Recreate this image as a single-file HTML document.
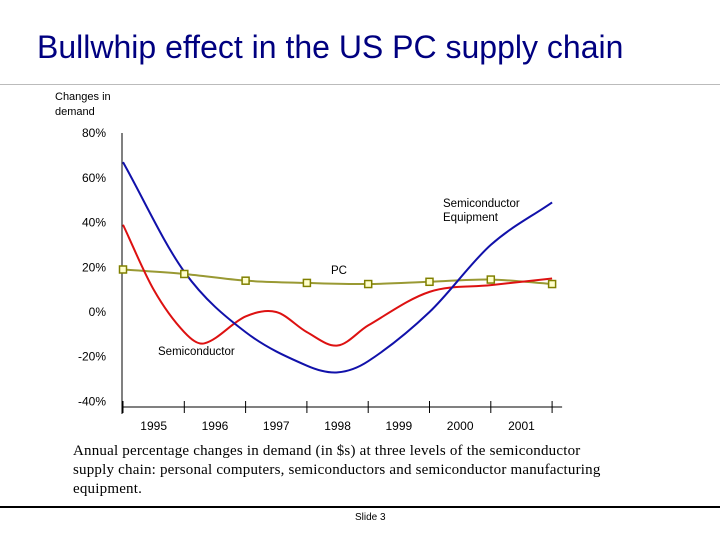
<!DOCTYPE html>
<html><head><meta charset="utf-8"><style>
body{margin:0;background:#fff;width:720px;height:540px;overflow:hidden;position:relative;font-family:"Liberation Sans",sans-serif}
.t{position:absolute;white-space:nowrap}
</style></head><body>
<div class="t" style="left:37px;top:29px;font-size:32px;color:#000080">Bullwhip effect in the US PC supply chain</div>
<div style="position:absolute;left:0;top:84px;width:720px;height:1px;background:#bbb"></div>
<svg id="chart" width="720" height="440" style="position:absolute;left:0;top:0" font-family="Liberation Sans, sans-serif"></svg>
<div class="t" style="left:73px;top:442px;font-family:'Liberation Serif',serif;font-size:15px;line-height:19px;letter-spacing:0.2px;white-space:normal;width:548px;color:#000">Annual percentage changes in demand (in $s) at three levels of the semiconductor supply chain: personal computers, semiconductors and semiconductor manufacturing equipment.</div>
<div style="position:absolute;left:0;top:506px;width:720px;height:2px;background:#000"></div>
<div class="t" style="left:355px;top:512px;font-size:10px">Slide 3</div>
<script>
const years=["1995","1996","1997","1998","1999","2000","2001"];
const yTicks=[80,60,40,20,0,-20,-40];
const pcX=[0,1,2,3,4,5,6,7];
const pcVals=[19,17,14,13,12.5,13.5,14.5,12.5];
const semiX=[0,0.5,1,1.33,2,2.5,3,3.5,4,5,6,7];
const semiVals=[39,10,-9,-14,-2,0,-9,-15,-6,9,12,15];
const equipX=[0,1,2,3,3.5,4,5,6,7];
const equipVals=[67,18,-9,-24,-27,-22,0,30,49];
const NS="http://www.w3.org/2000/svg",svg=document.getElementById('chart');
const x0=123,dx=61.3,yZero=312,pp=2.237;
const X=i=>x0+i*dx, Y=v=>yZero-v*pp;
function mk(t,a){const e=document.createElementNS(NS,t);for(const k in a)e.setAttribute(k,a[k]);svg.appendChild(e);return e;}
function smooth(xs,vs){const p=xs.map((x,i)=>[X(x),Y(vs[i])]);let d=`M${p[0][0]},${p[0][1]}`;
for(let i=0;i<p.length-1;i++){const a=p[i-1]||p[i],b=p[i],c=p[i+1],e=p[i+2]||c;
const s1=(c[0]-b[0])/(c[0]-a[0]||1),s2=(c[0]-b[0])/(e[0]-b[0]||1);
d+=` C${b[0]+(c[0]-a[0])*s1/3},${b[1]+(c[1]-a[1])*s1/3} ${c[0]-(e[0]-b[0])*s2/3},${c[1]-(e[1]-b[1])*s2/3} ${c[0]},${c[1]}`;}return d;}
let e;
e=mk('text',{x:55,y:100,'font-size':11});e.textContent='Changes in';

e=mk('text',{x:55,y:115,'font-size':11});e.textContent='demand';

yTicks.forEach(v=>{const t=mk('text',{x:106,y:Y(v)+4,'font-size':12,'text-anchor':'end'});t.textContent=v+'%';
});
e=mk('line',{x1:122,y1:133,x2:122,y2:414,stroke:'#000'});

e=mk('line',{x1:122,y1:407,x2:X(7)+10,y2:407,stroke:'#000'});

for(let i=0;i<=7;i++){const t=mk('line',{x1:X(i),y1:401,x2:X(i),y2:413,stroke:'#000'});
}
years.forEach((y,i)=>{const t=mk('text',{x:X(i+0.5),y:430,'font-size':12,'text-anchor':'middle'});t.textContent=y;
});
e=mk('path',{d:smooth(pcX,pcVals),fill:'none',stroke:'#999933','stroke-width':2});

e=mk('path',{d:smooth(semiX,semiVals),fill:'none',stroke:'#dd1111','stroke-width':2});

e=mk('path',{d:smooth(equipX,equipVals),fill:'none',stroke:'#1111aa','stroke-width':2});

pcX.forEach((x,i)=>{const r=mk('rect',{x:X(x)-3.5,y:Y(pcVals[i])-3.5,width:7,height:7,fill:'#ffffcc',stroke:'#808000','stroke-width':1.5});
});
[['PC',331,274,'label-pc'],['Semiconductor',158,355,'label-semiconductor'],['Semiconductor',443,207,'label-equipment'],['Equipment',443,221,'label-equipment-line2']].forEach(a=>{
const t=mk('text',{x:a[1],y:a[2],'font-size':11.5});t.textContent=a[0];
});
</script>
</body></html>
